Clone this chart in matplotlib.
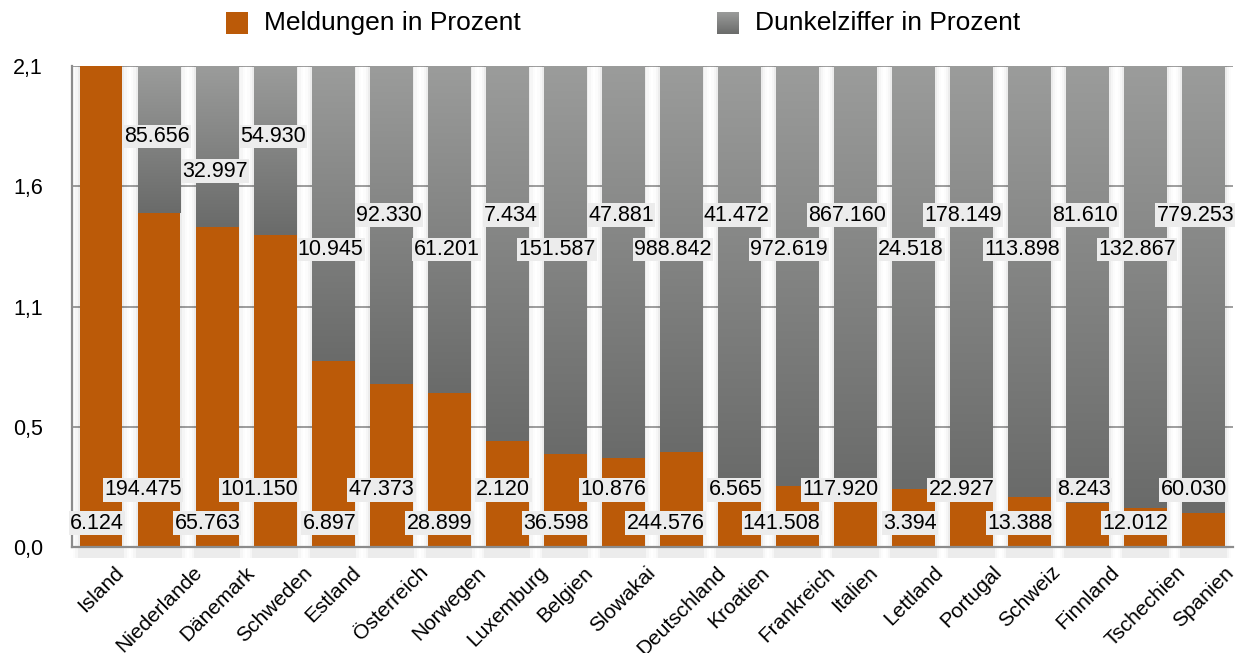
import numpy as np
import matplotlib
matplotlib.use('Agg')
import matplotlib.pyplot as plt
from matplotlib import ticker

plt.rcParams['font.family'] = ['Liberation Sans', 'DejaVu Sans']

# reported cases and estimated unreported cases per country
countries = ['Island', 'Niederlande', 'Dänemark', 'Schweden', 'Estland', 'Österreich',
             'Norwegen', 'Luxemburg', 'Belgien', 'Slowakai', 'Deutschland', 'Kroatien',
             'Frankreich', 'Italien', 'Lettland', 'Portugal', 'Schweiz', 'Finnland',
             'Tschechien', 'Spanien']
meldungen = [6124, 194475, 65763, 101150, 6897, 47373, 28899, 2120, 36598, 10876,
             244576, 6565, 141508, 117920, 3394, 22927, 13388, 8243, 12012, 60030]
dunkelziffer = [0, 85656, 32997, 54930, 10945, 92330, 61201, 7434, 151587, 47881,
                988842, 41472, 972619, 867160, 24518, 178149, 113898, 81610, 132867, 779253]
legend_labels = ['Meldungen in Prozent', 'Dunkelziffer in Prozent']

ymax = 2.1
orange = '#bb5a08'
gray_top = '#9b9c9b'
gray_bot = '#6a6b6a'


def de_num(v):
    return f'{v:,}'.replace(',', '.')


def gray_gradient():
    c0 = np.array(matplotlib.colors.to_rgb(gray_top))
    c1 = np.array(matplotlib.colors.to_rgb(gray_bot))
    t = np.linspace(0, 1, 128)[:, None]
    return (c0 * (1 - t) + c1 * t)[:, None, :]


meld = np.array(meldungen, dtype=float)
dunk = np.array(dunkelziffer, dtype=float)
total = meld + dunk
meld_h = meld / total * ymax
dunk_h = dunk / total * ymax

n = len(countries)
x = np.arange(n)
bw = 0.74

fig = plt.figure(figsize=(12.45, 6.53), dpi=100)
ax = fig.add_axes([0.0578, 0.1616, 0.9322, 0.7373])
ax.set_facecolor('white')

# soft shadow round every bar
for extra, alpha in [(0.22, 0.012), (0.14, 0.022), (0.06, 0.04)]:
    ax.bar(x, ymax + 0.045, bottom=-0.045, width=bw + extra, color='k', alpha=alpha,
           linewidth=0, zorder=1, clip_on=False)

gray_bars = ax.bar(x, dunk_h, bottom=meld_h, width=bw, color=gray_bot, linewidth=0, zorder=2)
grad = gray_gradient()
for b in gray_bars:
    if b.get_height() <= 0:
        continue
    x0, y0 = b.get_x(), b.get_y()
    im = ax.imshow(grad, extent=(x0, x0 + b.get_width(), y0, y0 + b.get_height()),
                   aspect='auto', zorder=2.5, interpolation='bilinear')
    im.set_clip_path(b)

ax.bar(x, meld_h, width=bw, color=orange, linewidth=0, zorder=3)

# value labels, staggered in two rows
meld_label_y = [0.1055 if i % 2 == 0 else 0.2508 for i in range(n)]
dunk_label_y = []
for i in range(n):
    if i < 4:
        dunk_label_y.append(1.792 if i % 2 == 1 else 1.641)
    else:
        dunk_label_y.append(1.449 if i % 2 == 1 else 1.300)

box = dict(boxstyle='square,pad=0.06', fc='#ececec', ec='none')
for i in range(n):
    ax.annotate(de_num(meldungen[i]), xy=(x[i] + bw / 2, meld_label_y[i]),
                xytext=(1.2, 0), textcoords='offset points', ha='right', va='center',
                fontsize=15.5, bbox=box, zorder=6)
    if dunkelziffer[i] > 0:
        ax.annotate(de_num(dunkelziffer[i]), xy=(x[i] + bw / 2, dunk_label_y[i]),
                    xytext=(6.5, 0), textcoords='offset points', ha='right', va='center',
                    fontsize=15.5, bbox=box, zorder=6)

ax.set_xlim(-0.5, n - 0.5)
ax.set_ylim(0, ymax)
ax.set_yticks(np.linspace(0, ymax, 5))
ax.yaxis.set_major_formatter(ticker.FuncFormatter(lambda v, p: f'{v:.1f}'.replace('.', ',')))
ax.set_xticks(x, countries, rotation=45, ha='center', fontsize=15)
ax.tick_params(axis='x', length=0, pad=11)
ax.tick_params(axis='y', length=0, pad=21, labelsize=15.5)

ax.yaxis.grid(True, color='#8e8e8e', linewidth=1.2, zorder=0)
ax.set_axisbelow(True)
for side in ['top', 'right']:
    ax.spines[side].set_visible(False)
for side in ['left', 'bottom']:
    ax.spines[side].set_color('#8c8c8c')
    ax.spines[side].set_linewidth(1.6)
    ax.spines[side].set_zorder(4)

# legend squares and texts
sq_w, sq_h = 22 / 1245, 22 / 653
ax_l1 = fig.add_axes([226 / 1245, 1 - 34 / 653, sq_w, sq_h])
ax_l1.imshow([[matplotlib.colors.to_rgb(orange)]], aspect='auto')
ax_l1.axis('off')
ax_l2 = fig.add_axes([717 / 1245, 1 - 34 / 653, sq_w, sq_h])
ax_l2.imshow(grad, aspect='auto', interpolation='bilinear')
ax_l2.axis('off')
fig.text(264 / 1245, 1 - 23 / 653, legend_labels[0], fontsize=19, va='center', ha='left')
fig.text(755 / 1245, 1 - 23 / 653, legend_labels[1], fontsize=19, va='center', ha='left')

fig.savefig('out.png', dpi=100)
